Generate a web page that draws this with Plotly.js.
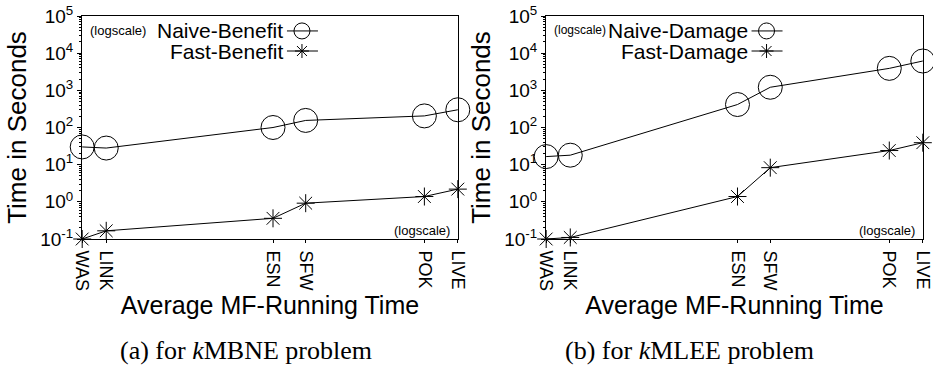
<!DOCTYPE html>
<html>
<head>
<meta charset="utf-8">
<script src="https://cdn.plot.ly/plotly-3.0.1.min.js"></script>
<style>
  html, body { margin: 0; padding: 0; background: #fff; }
  #chart { width: 933px; height: 380px; }
</style>
</head>
<body>
<div id="chart"></div>
<script>
// ---- data ----
var categories = ['WAS', 'LINK', 'ESN', 'SFW', 'POK', 'LIVE'];
// relative position of each dataset on the "Average MF-Running Time" axis
var avgMFTime = [0, 0.064, 0.508, 0.595, 0.911, 1];
var naiveBenefit = [30, 28, 100, 155, 205, 300];
var fastBenefit = [0.1, 0.166, 0.36, 0.92, 1.39, 2.2];
var naiveDamage = [16.5, 18, 415, 1210, 3900, 6150];
var fastDamage = [0.1, 0.11, 1.39, 8.3, 24, 39];
var yTickVals = [0.1, 1, 10, 100, 1000, 10000, 100000];
var yTickText = ['10<sup>-1</sup>', '10<sup>0</sup>', '10<sup>1</sup>', '10<sup>2</sup>',
                 '10<sup>3</sup>', '10<sup>4</sup>', '10<sup>5</sup>'];
var seriesNames = ['Naive-Benefit', 'Fast-Benefit', 'Naive-Damage', 'Fast-Damage'];
var captions = ['(a) for <i>k</i>MBNE problem', '(b) for <i>k</i>MLEE problem'];

// minor ticks 2..9 in each decade
var minorVals = [];
for (var e = -1; e < 5; e++) {
  for (var m = 2; m <= 9; m++) minorVals.push(m * Math.pow(10, e));
}

var SANS = 'Liberation Sans, Arial, sans-serif';
var SERIF = 'Liberation Serif, Times New Roman, serif';

function trace(y, name, symbol, size, xa, ya) {
  return {
    x: avgMFTime, y: y, name: name, type: 'scatter', mode: 'lines+markers',
    xaxis: xa, yaxis: ya, cliponaxis: false, showlegend: false,
    line: { color: '#000', width: 1 },
    marker: { symbol: symbol, size: size, color: '#000', line: { color: '#000', width: 1 } }
  };
}

var data = [
  trace(naiveBenefit, seriesNames[0], 'circle-open', 24, 'x', 'y'),
  trace(fastBenefit, seriesNames[1], 'asterisk-open', 15, 'x', 'y'),
  trace(naiveDamage, seriesNames[2], 'circle-open', 24, 'x2', 'y2'),
  trace(fastDamage, seriesNames[3], 'asterisk-open', 15, 'x2', 'y2')
];

function xAxis(domain, anchor) {
  return {
    domain: domain, anchor: anchor, range: [-0.0005, 1.0005], fixedrange: true,
    tickmode: 'array', tickvals: avgMFTime, ticktext: categories, tickangle: 90,
    ticks: 'outside', ticklen: 3, tickcolor: '#000', ticklabelstandoff: 4,
    showline: true, linecolor: '#000', linewidth: 1, mirror: true,
    showgrid: false, zeroline: false,
    tickfont: { family: SANS, size: 18, color: '#000' },
    title: { text: 'Average MF-Running Time', font: { family: SANS, size: 25, color: '#000' }, standoff: 4 }
  };
}
function yAxis(anchor) {
  return {
    domain: [0, 1], anchor: anchor, type: 'log', range: [-1, 5], fixedrange: true,
    tickmode: 'array', tickvals: yTickVals, ticktext: yTickText,
    ticks: 'outside', ticklen: 4, tickcolor: '#000',
    minor: { tickmode: 'array', tickvals: minorVals, ticks: 'outside', ticklen: 2, tickcolor: '#000', showgrid: false },
    showline: true, linecolor: '#000', linewidth: 1, mirror: true,
    showgrid: false, zeroline: false,
    tickfont: { family: SANS, size: 19, color: '#000' },
    title: { text: 'Time in Seconds', font: { family: SANS, size: 26, color: '#000' }, standoff: 6 }
  };
}

var annotations = [];
var shapes = [];
function addPanel(xr, yr, nameA, nameB, logTopSize) {
  var xd = xr + ' domain', yd = yr + ' domain';
  annotations.push({ xref: xd, yref: yd, x: 0.016, y: 0.935, xanchor: 'left', yanchor: 'middle',
    text: '(logscale)', showarrow: false, font: { family: SANS, size: logTopSize, color: '#000' } });
  annotations.push({ xref: xd, yref: yd, x: 0.984, y: 0.04, xanchor: 'right', yanchor: 'middle',
    text: '(logscale)', showarrow: false, font: { family: SANS, size: 13, color: '#000' } });
  annotations.push({ xref: xd, yref: yd, x: 0.54, y: 0.933, xanchor: 'right', yanchor: 'middle',
    text: nameA, showarrow: false, font: { family: SANS, size: 21, color: '#000' } });
  annotations.push({ xref: xd, yref: yd, x: 0.54, y: 0.843, xanchor: 'right', yanchor: 'middle',
    text: nameB, showarrow: false, font: { family: SANS, size: 21, color: '#000' } });
  var ln = { color: '#000', width: 1 };
  [0.933, 0.843].forEach(function (yy) {
    shapes.push({ type: 'line', xref: xd, yref: yd, xsizemode: 'pixel', ysizemode: 'pixel',
      xanchor: 0.585, yanchor: yy, x0: -15, x1: 16, y0: 0, y1: 0, line: ln });
  });
  shapes.push({ type: 'circle', xref: xd, yref: yd, xsizemode: 'pixel', ysizemode: 'pixel',
    xanchor: 0.585, yanchor: 0.933, x0: -8, x1: 8, y0: -8, y1: 8, line: ln });
  shapes.push({ type: 'path', xref: xd, yref: yd, xsizemode: 'pixel', ysizemode: 'pixel',
    xanchor: 0.585, yanchor: 0.843, path: 'M-7,0H7M0,-7V7M-5,-5L5,5M-5,5L5,-5', line: ln });
}
addPanel('x', 'y', seriesNames[0], seriesNames[1], 13);
addPanel('x2', 'y2', seriesNames[2], seriesNames[3], 12);

annotations.push({ xref: 'paper', yref: 'paper', x: 0.195, y: -0.498, xanchor: 'center', yanchor: 'middle',
  text: captions[0], showarrow: false, font: { family: SERIF, size: 26, color: '#000' } });
annotations.push({ xref: 'paper', yref: 'paper', x: 0.7224, y: -0.498, xanchor: 'center', yanchor: 'middle',
  text: captions[1], showarrow: false, font: { family: SERIF, size: 26, color: '#000' } });

var layout = {
  width: 933, height: 380,
  margin: { l: 82, r: 10, t: 16, b: 141 },
  paper_bgcolor: '#fff', plot_bgcolor: '#fff',
  showlegend: false,
  xaxis: xAxis([0, 0.4471], 'y'),
  yaxis: yAxis('x'),
  xaxis2: xAxis([0.5517, 1], 'y2'),
  yaxis2: yAxis('x2'),
  annotations: annotations,
  shapes: shapes
};

Plotly.newPlot('chart', data, layout, { displayModeBar: false, staticPlot: true });
</script>
</body>
</html>
